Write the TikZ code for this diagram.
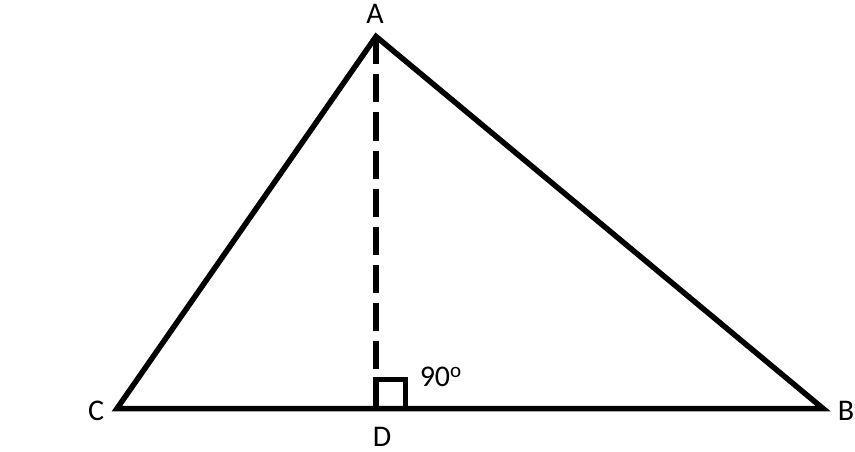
\documentclass[tikz,border=0pt]{standalone}
\usepackage{fontspec}
\setmainfont{Carlito}
\begin{document}
\begin{tikzpicture}[x=1pt,y=-1pt,line width=5.5pt,
  every node/.style={inner sep=0pt,font=\fontsize{30}{36}\selectfont}]
\useasboundingbox (0,0) rectangle (855,452);

\coordinate (A) at (376,36.5);
\coordinate (B) at (823,408.5);
\coordinate (C) at (117,408.5);
\coordinate (D) at (376,408.5);
\coordinate (E) at (376,379.5);
\coordinate (F) at (405.5,379.5);

\draw[line join=miter] (C) -- (A) -- (B) -- cycle;
\draw[dash pattern=on 28pt off 10pt] (A) -- (E);
\draw (D) rectangle (F);

\node (lblA) at (375,14) {A};
\node (lblB) at (846,411) {B};
\node (lblC) at (96,411) {C};
\node (lblD) at (382,437) {D};
\node[anchor=west] (lblang) at (417,377) {90\textsuperscript{o}};

\end{tikzpicture}
\end{document}
